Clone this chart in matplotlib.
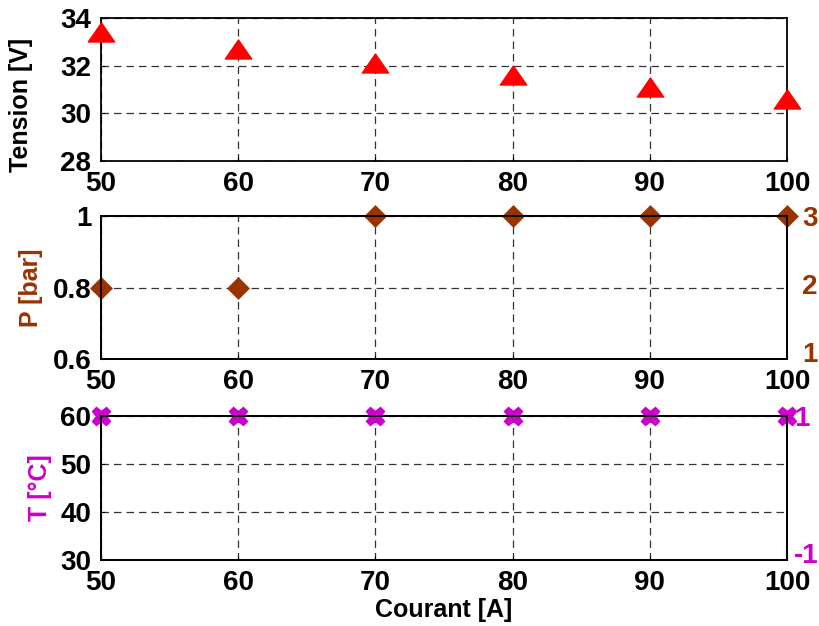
import matplotlib
matplotlib.use("Agg")
import matplotlib.pyplot as plt
from matplotlib.path import Path

# Données
courant = [50, 60, 70, 80, 90, 100]
tension = [33.4, 32.7, 32.1, 31.6, 31.1, 30.6]
pression = [0.8, 0.8, 1.0, 1.0, 1.0, 1.0]
temperature = [60, 60, 60, 60, 60, 60]

x_ticks = [50, 60, 70, 80, 90, 100]
tension_ticks = [28, 30, 32, 34]
pression_ticks = [0.6, 0.8, 1.0]
pression_ticklabels = ["0.6", "0.8", "1"]
temp_ticks = [30, 40, 50, 60]
pression_right_ticks = [1, 2, 3]
temp_right_ticks = [-1, 1]

RED = "#ff0000"
BROWN = "#993300"
MAGENTA = "#cc00cc"

plt.rcParams["font.family"] = ["Liberation Sans", "DejaVu Sans"]
plt.rcParams["font.weight"] = "bold"
plt.rcParams["axes.unicode_minus"] = False

W, H = 819, 626
fig = plt.figure(figsize=(W / 100, H / 100), dpi=100)


def box(left, top, right, bottom):
    return [left / W, 1 - bottom / H, (right - left) / W, (bottom - top) / H]


# triangle plus large que haut, comme le marqueur '^' de MATLAB
tri = Path([(0, 0.72), (-1, -0.72), (1, -0.72), (0, 0.72)],
           [Path.MOVETO, Path.LINETO, Path.LINETO, Path.CLOSEPOLY])


def style(ax, yticks, ylim, yticklabels=None):
    ax.set_xlim(50, 100)
    ax.set_ylim(*ylim)
    ax.set_xticks(x_ticks)
    ax.set_yticks(yticks)
    if yticklabels is not None:
        ax.set_yticklabels(yticklabels)
    ax.tick_params(labelsize=20, length=3, direction="in", pad=7)
    ax.grid(True, color="black", linestyle=(0, (6, 4)), linewidth=0.9, alpha=0.8)
    for s in ax.spines.values():
        s.set_linewidth(1.3)
    for lab in ax.get_xticklabels() + ax.get_yticklabels():
        lab.set_fontweight("bold")


def right_axis(ax, ylim, ticks, color, pad):
    axr = ax.twinx()
    axr.set_ylim(*ylim)
    axr.set_yticks(ticks)
    axr.tick_params(labelsize=20, length=0, pad=pad, colors=color)
    for lab in axr.get_yticklabels():
        lab.set_fontweight("bold")
    for s in axr.spines.values():
        s.set_linewidth(1.3)
    return axr


ax1 = fig.add_axes(box(101, 18, 787, 161))
ax1.plot(courant, tension, linestyle="none", marker=tri, markersize=19,
         color=RED, clip_on=False, zorder=5)
style(ax1, tension_ticks, (28, 34))
ax1.set_ylabel("Tension [V]", fontsize=18, fontweight="bold")
ax1.yaxis.set_label_coords(-0.099, 0.39)

ax2 = fig.add_axes(box(101, 216, 787, 359))
ax2.plot(courant, pression, linestyle="none", marker="D", markersize=8,
         markeredgewidth=3.5, markeredgecolor=BROWN, color=BROWN,
         clip_on=False, zorder=5)
style(ax2, pression_ticks, (0.6, 1.0), pression_ticklabels)
ax2.set_ylabel("P [bar]", fontsize=18, fontweight="bold", color=BROWN)
ax2.yaxis.set_label_coords(-0.085, 0.5)
right_axis(ax2, (0.9, 3), pression_right_ticks, BROWN, 11)

ax3 = fig.add_axes(box(101, 416, 787, 560))
ax3.plot(courant, temperature, linestyle="none", marker="X", markersize=13,
         color=MAGENTA, clip_on=False, zorder=5)
style(ax3, temp_ticks, (30, 60))
ax3.set_ylabel("T [°C]", fontsize=18, fontweight="bold", color=MAGENTA)
ax3.yaxis.set_label_coords(-0.071, 0.5)
ax3.set_xlabel("Courant [A]", fontsize=18, fontweight="bold", labelpad=2)
right_axis(ax3, (-1.1, 1), temp_right_ticks, MAGENTA, 5)

fig.savefig("out.png", dpi=100)
